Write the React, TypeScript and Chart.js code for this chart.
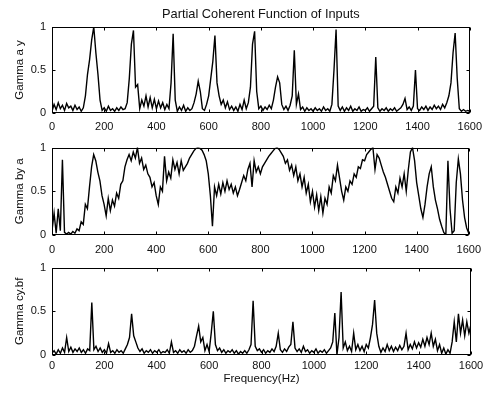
import React, { useEffect, useRef } from "react";
import { Chart, registerables } from "chart.js";

Chart.register(...registerables);

// ---- data (frequency grid step in Hz) ----
const FREQ_STEP_HZ = 8;

const GAMMA_AY = [
  0.02, 0.10, 0.04, 0.12, 0.05, 0.09, 0.03, 0.11, 0.06, 0.08,
  0.03, 0.09, 0.04, 0.07, 0.02, 0.06, 0.20, 0.45, 0.62, 0.85,
  1.00, 0.70, 0.45, 0.15, 0.03, 0.06, 0.02, 0.08, 0.03, 0.05,
  0.02, 0.06, 0.03, 0.07, 0.04, 0.05, 0.12, 0.40, 0.80, 0.96,
  0.30, 0.33, 0.05, 0.15, 0.08, 0.20, 0.07, 0.18, 0.06, 0.16,
  0.05, 0.14, 0.06, 0.12, 0.04, 0.10, 0.05, 0.35, 0.92, 0.15,
  0.02, 0.07, 0.03, 0.09, 0.02, 0.06, 0.03, 0.05, 0.12, 0.22,
  0.37, 0.25, 0.05, 0.03, 0.10, 0.20, 0.40, 0.60, 0.90, 0.35,
  0.20, 0.10, 0.15, 0.06, 0.13, 0.04, 0.08, 0.03, 0.07, 0.02,
  0.10, 0.04, 0.15, 0.05, 0.12, 0.30, 0.80, 0.95, 0.25, 0.05,
  0.08, 0.03, 0.07, 0.04, 0.09, 0.05, 0.15, 0.30, 0.42, 0.35,
  0.10, 0.04, 0.08, 0.03, 0.09, 0.20, 0.73, 0.10, 0.22, 0.04,
  0.07, 0.02, 0.06, 0.03, 0.05, 0.02, 0.06, 0.03, 0.05, 0.02,
  0.07, 0.03, 0.05, 0.02, 0.10, 0.50, 0.97, 0.08, 0.03, 0.07,
  0.02, 0.06, 0.03, 0.08, 0.02, 0.05, 0.03, 0.07, 0.02, 0.04,
  0.03, 0.06, 0.02, 0.05, 0.08, 0.65, 0.06, 0.02, 0.05, 0.03,
  0.06, 0.02, 0.05, 0.03, 0.06, 0.02, 0.04, 0.06, 0.10, 0.17,
  0.04, 0.07, 0.03, 0.08, 0.50, 0.05, 0.03, 0.07, 0.04, 0.08,
  0.03, 0.07, 0.04, 0.09, 0.05, 0.08, 0.04, 0.10, 0.06, 0.12,
  0.20, 0.35, 0.70, 0.93, 0.40, 0.05, 0.02, 0.04, 0.02, 0.03,
  0.02,
];

const GAMMA_BY_A = [
  0.05, 0.25, 0.02, 0.30, 0.05, 0.86, 0.03, 0.01, 0.03, 0.01,
  0.04, 0.02, 0.07, 0.05, 0.15, 0.12, 0.35, 0.30, 0.55, 0.78,
  0.92, 0.85, 0.72, 0.62, 0.45, 0.35, 0.22, 0.42, 0.28, 0.40,
  0.33, 0.48, 0.42, 0.58, 0.62, 0.78, 0.86, 0.92, 0.85, 0.95,
  0.88, 1.00, 0.82, 0.88, 0.75, 0.80, 0.70, 0.66, 0.55, 0.60,
  0.45, 0.35, 0.55, 0.50, 0.90, 0.62, 0.72, 0.65, 0.86, 0.75,
  0.83, 0.70, 0.85, 0.74, 0.78, 0.82, 0.88, 0.92, 0.96, 0.99,
  1.00, 0.99, 0.97, 0.92, 0.85, 0.70, 0.45, 0.10, 0.55, 0.45,
  0.58, 0.47, 0.60, 0.50, 0.62, 0.52, 0.58, 0.48, 0.55, 0.45,
  0.52, 0.60, 0.68, 0.62, 0.75, 0.82, 0.55, 0.85, 0.72, 0.78,
  0.70, 0.78, 0.82, 0.86, 0.90, 0.93, 0.96, 0.99, 1.00, 0.98,
  0.94, 0.90, 0.82, 0.86, 0.74, 0.80, 0.68, 0.78, 0.62, 0.70,
  0.55, 0.66, 0.48, 0.58, 0.38, 0.50, 0.32, 0.46, 0.28, 0.44,
  0.25, 0.42, 0.35, 0.55, 0.48, 0.68, 0.62, 0.80, 0.65, 0.50,
  0.40, 0.55, 0.50, 0.62, 0.58, 0.70, 0.66, 0.78, 0.76, 0.86,
  0.85, 0.92, 0.95, 0.98, 1.00, 0.75, 0.92, 0.88, 0.80, 0.72,
  0.66, 0.58, 0.50, 0.42, 0.38, 0.55, 0.48, 0.65, 0.55, 0.70,
  0.50, 0.75, 0.95, 1.00, 0.85, 0.60, 0.45, 0.30, 0.20, 0.35,
  0.55, 0.70, 0.78, 0.55, 0.40, 0.30, 0.18, 0.10, 0.03, 0.00,
  0.85, 0.30, 0.02, 0.05, 0.60, 0.87, 0.70, 0.40, 0.20, 0.08,
  0.02,
];

const GAMMA_CY_BF = [
  0.02, 0.05, 0.01, 0.06, 0.02, 0.08, 0.03, 0.20, 0.04, 0.09,
  0.03, 0.07, 0.04, 0.08, 0.03, 0.06, 0.02, 0.07, 0.05, 0.60,
  0.06, 0.10, 0.04, 0.08, 0.03, 0.06, 0.02, 0.13, 0.03, 0.05,
  0.02, 0.06, 0.03, 0.05, 0.02, 0.07, 0.12, 0.20, 0.47, 0.22,
  0.15, 0.08, 0.04, 0.07, 0.02, 0.05, 0.03, 0.06, 0.02, 0.05,
  0.03, 0.06, 0.02, 0.04, 0.03, 0.06, 0.02, 0.15, 0.03, 0.05,
  0.02, 0.06, 0.03, 0.05, 0.02, 0.06, 0.03, 0.05, 0.10, 0.22,
  0.33, 0.15, 0.20, 0.05, 0.12, 0.04, 0.25, 0.50, 0.12, 0.05,
  0.08, 0.03, 0.06, 0.02, 0.05, 0.03, 0.06, 0.02, 0.05, 0.01,
  0.04, 0.02, 0.05, 0.02, 0.06, 0.12, 0.62, 0.10, 0.05, 0.07,
  0.03, 0.06, 0.02, 0.05, 0.03, 0.07, 0.04, 0.10, 0.25, 0.06,
  0.03, 0.07, 0.04, 0.09, 0.12, 0.38, 0.08, 0.04, 0.07, 0.03,
  0.10, 0.04, 0.06, 0.02, 0.05, 0.03, 0.07, 0.02, 0.05, 0.03,
  0.06, 0.02, 0.05, 0.08, 0.15, 0.48, 0.00, 0.20, 0.72, 0.08,
  0.15, 0.05, 0.10, 0.04, 0.25, 0.06, 0.12, 0.05, 0.10, 0.04,
  0.12, 0.08, 0.20, 0.35, 0.63, 0.25, 0.10, 0.03, 0.08, 0.04,
  0.12, 0.05, 0.10, 0.04, 0.09, 0.05, 0.11, 0.06, 0.10, 0.25,
  0.06, 0.12, 0.07, 0.15, 0.08, 0.14, 0.09, 0.18, 0.10, 0.20,
  0.12, 0.25, 0.10, 0.18, 0.05, 0.12, 0.02, 0.08, 0.01, 0.06,
  0.02, 0.15, 0.38, 0.15, 0.47, 0.25, 0.40, 0.22, 0.38, 0.25,
  0.35,
];

const FREQUENCY_HZ = GAMMA_AY.map((_, i) => i * FREQ_STEP_HZ);

const X_MIN = 0;
const X_MAX = 1600;
const X_STEP = 200;
const Y_MIN = 0;
const Y_MAX = 1;
const Y_STEP = 0.5;

const TITLE = "Partial Coherent Function of Inputs";
const Y_LABELS = ["Gamma a y", "Gamma by a", "Gamma cy.bf"];
const X_LABEL = "Frequency(Hz)";

const FONT = "'Liberation Sans', Arial, Helvetica, sans-serif";
const INK = "#111";

type Panel = {
  values: number[];
  yLabel: string;
  canvasTop: number;
  canvasHeight: number;
  padTop: number;
  axisHeight: number;
  tickPad: number;
  title?: string;
  xTitle?: string;
};

const PANELS: Panel[] = [
  { values: GAMMA_AY, yLabel: Y_LABELS[0], canvasTop: 0, canvasHeight: 140, padTop: 0, axisHeight: 27, tickPad: 7, title: TITLE },
  { values: GAMMA_BY_A, yLabel: Y_LABELS[1], canvasTop: 135, canvasHeight: 127, padTop: 11, axisHeight: 27, tickPad: 8 },
  { values: GAMMA_CY_BF, yLabel: Y_LABELS[2], canvasTop: 255, canvasHeight: 140, padTop: 12, axisHeight: 40, tickPad: 4, xTitle: X_LABEL },
];

const W = 489;

const boxPlugin = {
  id: "matlabBox",
  afterDatasetsDraw(chart: any) {
    const { ctx, chartArea: a, scales } = chart;
    const L = Math.round(a.left) + 0.5;
    const R = Math.round(a.right) - 0.5;
    const T = Math.round(a.top) + 0.5;
    const B = Math.round(a.bottom) - 0.5;
    ctx.save();
    ctx.strokeStyle = "#000";
    ctx.lineWidth = 1;
    ctx.strokeRect(L, T, R - L, B - T);
    const tl = 3;
    ctx.beginPath();
    scales.x.ticks.forEach((t: any) => {
      const px = Math.round(scales.x.getPixelForValue(t.value)) + 0.5;
      ctx.moveTo(px, B);
      ctx.lineTo(px, B - tl);
      ctx.moveTo(px, T);
      ctx.lineTo(px, T + tl);
    });
    scales.y.ticks.forEach((t: any) => {
      const py = Math.round(scales.y.getPixelForValue(t.value)) + 0.5;
      ctx.moveTo(L, py);
      ctx.lineTo(L + tl, py);
      ctx.moveTo(R, py);
      ctx.lineTo(R - tl, py);
    });
    ctx.stroke();
    ctx.restore();
  },
};

const plain = (v: any) => String(Number(v));

function PanelChart({ p }: { p: Panel }) {
  const ref = useRef<HTMLCanvasElement | null>(null);
  useEffect(() => {
    if (!ref.current) return;
    const chart = new Chart(ref.current, {
      type: "line",
      data: {
        labels: FREQUENCY_HZ,
        datasets: [
          {
            data: p.values,
            borderColor: "#000",
            borderWidth: 1.4,
            pointRadius: 0,
            tension: 0,
            fill: false,
          },
        ],
      },
      options: {
        responsive: false,
        animation: false,
        devicePixelRatio: 1,
        layout: { padding: { top: p.padTop, right: 18, left: 0, bottom: 0 } },
        plugins: {
          legend: { display: false },
          tooltip: { enabled: false },
          title: p.title
            ? {
                display: true,
                text: p.title,
                color: INK,
                fullSize: false,
                font: { family: FONT, size: 12.8, weight: "normal", lineHeight: 1.2 },
                padding: { top: 6.5, bottom: 5.1 },
              }
            : { display: false },
        },
        scales: {
          x: {
            type: "linear",
            min: X_MIN,
            max: X_MAX,
            grid: { display: false, drawTicks: false },
            border: { display: false },
            ticks: {
              stepSize: X_STEP,
              color: INK,
              padding: p.tickPad,
              maxRotation: 0,
              autoSkip: false,
              font: { family: FONT, size: 11 },
              callback: plain,
            },
            title: p.xTitle
              ? {
                  display: true,
                  text: p.xTitle,
                  color: INK,
                  font: { family: FONT, size: 11.5 },
                  padding: { top: 0, bottom: 9 },
                }
              : { display: false },
            afterFit: (s: any) => {
              s.height = p.axisHeight;
            },
          },
          y: {
            min: Y_MIN,
            max: Y_MAX,
            grid: { display: false, drawTicks: false },
            border: { display: false },
            ticks: {
              stepSize: Y_STEP,
              color: INK,
              padding: 6,
              font: { family: FONT, size: 11 },
              callback: plain,
            },
            title: {
              display: true,
              text: p.yLabel,
              color: INK,
              font: { family: FONT, size: 11.5 },
              padding: { top: 13, bottom: 0 },
            },
            afterFit: (s: any) => {
              s.width = 52;
            },
          },
        },
      },
      plugins: [boxPlugin],
    } as any);
    return () => chart.destroy();
  }, [p]);
  return (
    <canvas
      ref={ref}
      width={W}
      height={p.canvasHeight}
      style={{ position: "absolute", left: 0, top: p.canvasTop, width: W, height: p.canvasHeight }}
    />
  );
}

export default function App() {
  return (
    <div style={{ position: "absolute", left: 0, top: 0, width: W, height: 395, background: "#fff", overflow: "hidden" }}>
      {PANELS.map((p, i) => (
        <PanelChart key={i} p={p} />
      ))}
    </div>
  );
}
